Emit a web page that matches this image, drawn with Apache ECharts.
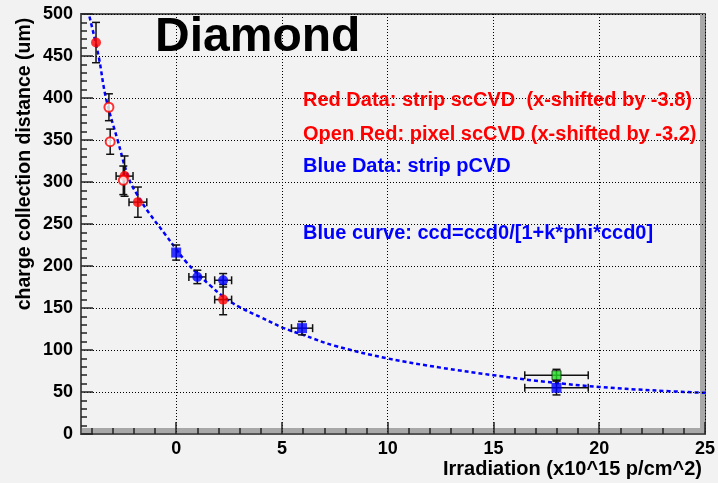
<!DOCTYPE html>
<html><head><meta charset="utf-8">
<script src="https://cdn.jsdelivr.net/npm/echarts@6/dist/echarts.min.js"></script>
<style>html,body{margin:0;padding:0;background:#f2f2f2}#c{width:718px;height:483px}</style>
</head><body><div id="c"></div>
<script>
// ---- tick labels ----
const xMajorTicks = [0, 5, 10, 15, 20, 25];
const xMinorTicks = [-4, -3, -2, -1, 1, 2, 3, 4, 6, 7, 8, 9, 11, 12, 13, 14, 16, 17, 18, 19, 21, 22, 23, 24];
const yTickStep = 50;

// ---- Red filled: strip scCVD (x-shifted by -3.8) ----
const redX = [-3.79, -2.44, -1.81, 2.22];
const redY = [466, 307, 276, 160];
const redXErr = [0, 0.4, 0.42, 0.4];
const redYErr = [24, 24, 18, 18];

// ---- Open red: pixel scCVD (x-shifted by -3.2) ----
const openX = [-3.18, -3.12, -2.5];
const openY = [389, 348, 302];
const openXErr = [0, 0, 0];
const openYErr = [16, 15, 17];

// ---- Blue: strip pCVD (squares and circles) ----
const blueSqX = [0, 5.95, 17.98];
const blueSqY = [216, 126, 55];
const blueSqXErr = [0, 0.5, 1.5];
const blueSqYErr = [9, 8, 8.5];
const blueCiX = [1.0, 2.22];
const blueCiY = [187, 183];
const blueCiXErr = [0.4, 0.4];
const blueCiYErr = [8, 8];

// ---- Green point ----
const greenX = [17.98];
const greenY = [70];
const greenXErr = [1.5];
const greenYErr = [7];

// ---- Blue fit curve ----
const curveX = [-4.1, -3.67, -3.32, -2.77, -2.25, -1.8, -1.25, -0.5, 0, 0.5, 1, 1.6, 2.2, 3, 4, 5, 6, 7.5, 10, 12.5, 15, 17.5, 20, 22.5, 25];
const curveY = [497, 450, 400, 350, 305, 283, 262, 237, 220, 204, 191, 177, 164, 151, 139, 127, 118, 105, 90, 79, 70, 62, 56, 52, 49];

// ---- texts ----
const titleText = 'Diamond';
const noteTexts = [
  'Red Data: strip scCVD  (x-shifted by -3.8)',
  'Open Red: pixel scCVD (x-shifted by -3.2)',
  'Blue Data: strip pCVD',
  'Blue curve: ccd=ccd0/[1+k*phi*ccd0]'
];
const yTitle = 'charge collection distance (um)';
const xTitle = 'Irradiation (x10^15 p/cm^2)';

function zip4(a, b, c, d) { return a.map((v, i) => [v, b[i], c[i], d[i]]); }
function zip2(a, b) { return a.map((v, i) => [v, b[i]]); }

const FONT = "'Liberation Sans', Arial, Helvetica, sans-serif";
const errStyle = { stroke: '#111', lineWidth: 1.5 };
function errRender(params, api) {
  const x = api.value(0), y = api.value(1), ex = api.value(2), ey = api.value(3);
  const c = api.coord([x, y]);
  const cap = 4;
  const ch = [];
  if (ey > 0) {
    const t = api.coord([x, y + ey]), b = api.coord([x, y - ey]);
    ch.push({ type: 'line', shape: { x1: c[0], y1: t[1], x2: c[0], y2: b[1] }, style: errStyle });
    ch.push({ type: 'line', shape: { x1: c[0] - cap, y1: t[1], x2: c[0] + cap, y2: t[1] }, style: errStyle });
    ch.push({ type: 'line', shape: { x1: c[0] - cap, y1: b[1], x2: c[0] + cap, y2: b[1] }, style: errStyle });
  }
  if (ex > 0) {
    const l = api.coord([x - ex, y]), r = api.coord([x + ex, y]);
    ch.push({ type: 'line', shape: { x1: l[0], y1: c[1], x2: r[0], y2: c[1] }, style: errStyle });
    ch.push({ type: 'line', shape: { x1: l[0], y1: c[1] - cap, x2: l[0], y2: c[1] + cap }, style: errStyle });
    ch.push({ type: 'line', shape: { x1: r[0], y1: c[1] - cap, x2: r[0], y2: c[1] + cap }, style: errStyle });
  }
  return { type: 'group', children: ch };
}
function errSeries(data) {
  return { type: 'custom', renderItem: errRender, data: data, encode: { x: 0, y: 1 }, z: 3, silent: true, clip: true };
}

const chart = echarts.init(document.getElementById('c'), null, { renderer: 'canvas' });
const option = {
  backgroundColor: '#f2f2f2',
  animation: false,
  grid: { left: 81, right: 13, top: 14, bottom: 49, show: true, borderColor: '#555', borderWidth: 2, backgroundColor: '#f2f2f2', containLabel: false },
  xAxis: [{
    type: 'value', min: -4.5, max: 25, position: 'bottom', z: 4,
    axisLine: { show: true, onZero: false, lineStyle: { color: '#555', width: 2 } },
    axisTick: { show: true, inside: true, length: 12, customValues: xMajorTicks, lineStyle: { color: '#222', width: 1.5 } },
    axisLabel: { show: true, customValues: xMajorTicks, margin: 6, color: '#000', fontSize: 18, fontWeight: 'bold', fontFamily: FONT },
    splitLine: { show: true, lineStyle: { color: '#000', width: 1, type: [1, 2] } },
    minorTick: { show: false }
  }, {
    type: 'value', min: -4.5, max: 25, position: 'bottom', offset: 0, z: 4,
    axisLine: { show: false },
    axisTick: { show: true, inside: true, length: 6, customValues: xMinorTicks, lineStyle: { color: '#222', width: 1.5 } },
    axisLabel: { show: false },
    splitLine: { show: false }
  }],
  yAxis: {
    type: 'value', min: 0, max: 500, interval: yTickStep, z: 4,
    axisLine: { show: true, onZero: false, lineStyle: { color: '#555', width: 2 } },
    axisTick: { show: true, inside: true, length: 12, lineStyle: { color: '#222', width: 1.5 } },
    minorTick: { show: true, splitNumber: 5, length: 6, lineStyle: { color: '#222', width: 1.5 } },
    axisLabel: { margin: 8, color: '#000', fontSize: 18, fontWeight: 'bold', fontFamily: FONT },
    splitLine: { show: true, lineStyle: { color: '#000', width: 1, type: [1, 2] } }
  },
  graphic: [
    { type: 'rect', z: 1, shape: { x: 81, y: 428, width: 624, height: 6 }, style: { fill: '#a8a8a8' }, silent: true },
    { type: 'rect', z: 1, shape: { x: 700, y: 14, width: 5, height: 420 }, style: { fill: '#a8a8a8' }, silent: true },
    { type: 'text', z: 10, x: 155, y: 38, style: { text: titleText, fill: '#000', font: "bold 48px " + FONT, align: 'left', verticalAlign: 'middle' } },
    { type: 'text', z: 10, x: 303, y: 100, style: { text: noteTexts[0], fill: '#ff0000', font: "bold 20px " + FONT, align: 'left', verticalAlign: 'middle' } },
    { type: 'text', z: 10, x: 303, y: 134, style: { text: noteTexts[1], fill: '#ff0000', font: "bold 20px " + FONT, align: 'left', verticalAlign: 'middle' } },
    { type: 'text', z: 10, x: 303, y: 166, style: { text: noteTexts[2], fill: '#0000ff', font: "bold 20px " + FONT, align: 'left', verticalAlign: 'middle' } },
    { type: 'text', z: 10, x: 303, y: 233, style: { text: noteTexts[3], fill: '#0000ff', font: "bold 20px " + FONT, align: 'left', verticalAlign: 'middle' } },
    { type: 'text', z: 10, x: 25, y: 164, rotation: Math.PI / 2, style: { text: yTitle, fill: '#000', font: "bold 19.5px " + FONT, align: 'center', verticalAlign: 'middle' } },
    { type: 'text', z: 10, x: 702, y: 469, style: { text: xTitle, fill: '#000', font: "bold 20px " + FONT, align: 'right', verticalAlign: 'middle' } }
  ],
  series: [
    { type: 'line', data: zip2(curveX, curveY), smooth: 0.4, showSymbol: false, symbol: 'none', z: 2, silent: true,
      lineStyle: { color: '#0000ff', width: 2.5, type: [4, 3] } },
    errSeries(zip4(redX, redY, redXErr, redYErr)),
    errSeries(zip4(openX, openY, openXErr, openYErr)),
    errSeries(zip4(blueSqX, blueSqY, blueSqXErr, blueSqYErr)),
    errSeries(zip4(blueCiX, blueCiY, blueCiXErr, blueCiYErr)),
    errSeries(zip4(greenX, greenY, greenXErr, greenYErr)),
    { type: 'scatter', data: zip2(redX, redY), symbol: 'circle', symbolSize: 10, z: 5, itemStyle: { color: '#ff0000' } },
    { type: 'scatter', data: zip2(openX, openY), symbol: 'emptyCircle', symbolSize: 9, z: 5, itemStyle: { color: '#ff0000', borderColor: '#ff0000', borderWidth: 1.5 } },
    { type: 'scatter', data: zip2(blueSqX, blueSqY), symbol: 'rect', symbolSize: 10, z: 5, itemStyle: { color: '#0000ff' } },
    { type: 'scatter', data: zip2(blueCiX, blueCiY), symbol: 'circle', symbolSize: 10, z: 5, itemStyle: { color: '#0000ff' } },
    { type: 'scatter', data: zip2(greenX, greenY), symbol: 'rect', symbolSize: 9, z: 5, itemStyle: { color: '#22dd22', borderColor: '#111', borderWidth: 1 } }
  ]
};
chart.setOption(option);
</script>
</body></html>
